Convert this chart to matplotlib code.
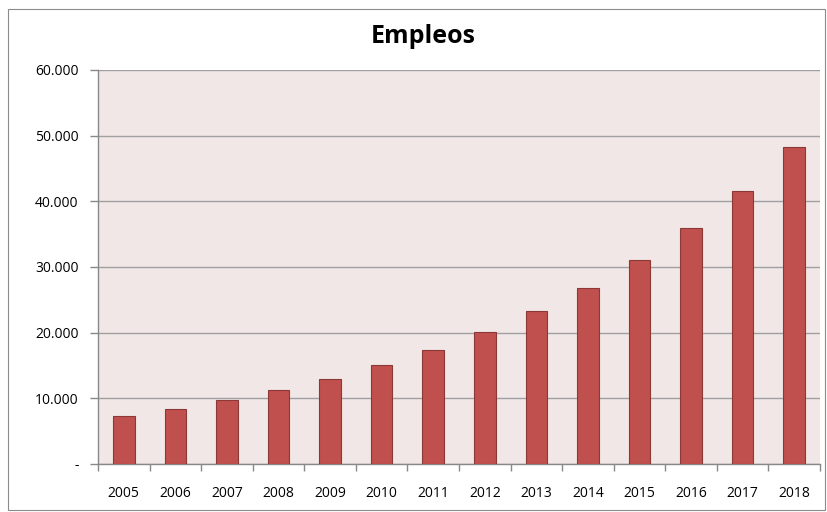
import matplotlib
matplotlib.use("Agg")
import matplotlib.pyplot as plt
from matplotlib.ticker import FuncFormatter, FixedLocator
from matplotlib.patches import Rectangle
import numpy as np

years = ['2005', '2006', '2007', '2008', '2009', '2010', '2011',
         '2012', '2013', '2014', '2015', '2016', '2017', '2018']
empleos = [7300, 8300, 9700, 11200, 12900, 15000, 17400,
           20100, 23300, 26800, 31100, 35900, 41500, 48200]

plt.rcParams['font.family'] = ['Open Sans', 'DejaVu Sans']


def miles(v, pos):
    if v == 0:
        return '-'
    return '{:,.0f}'.format(v).replace(',', '.')


def main():
    fig = plt.figure(figsize=(8.27, 5.12), dpi=100)
    # marco exterior del grafico
    fig.patches.append(Rectangle((0.010, 0.004), 0.988, 0.978, transform=fig.transFigure,
                                 fill=False, edgecolor='#8c8c8c', linewidth=0.8))
    ax = fig.add_axes([0.1185, 0.0938, 0.873, 0.7695])
    ax.set_facecolor('#f2e7e7')

    x = np.arange(len(years))
    ax.bar(x, empleos, width=0.42, color='#c0504d', edgecolor='#8c3836',
           linewidth=0.8, zorder=3)

    ax.set_xlim(-0.5, len(years) - 0.5)
    ax.set_ylim(0, 60000)
    ax.set_yticks(np.arange(0, 60001, 10000))
    ax.yaxis.set_major_formatter(FuncFormatter(miles))
    ax.grid(axis='y', color='#a0a0a0', linewidth=1.0, zorder=1)

    ax.set_xticks(x)
    ax.set_xticklabels(years)
    ax.xaxis.set_minor_locator(FixedLocator(np.arange(-0.5, len(years), 1.0)))
    ax.tick_params(axis='x', which='major', length=0, pad=16, labelsize=10)
    ax.tick_params(axis='x', which='minor', length=5, color='#888888', width=1)
    ax.tick_params(axis='y', length=6, color='#888888', width=1, labelsize=10, pad=8)

    for s in ['top', 'right']:
        ax.spines[s].set_visible(False)
    for s in ['left', 'bottom']:
        ax.spines[s].set_color('#888888')
        ax.spines[s].set_linewidth(1.0)

    fig.text(0.512, 0.928, 'Empleos', ha='center', va='center',
             fontsize=18, fontweight='bold')

    fig.savefig('out.png', dpi=100)


if __name__ == '__main__':
    main()
